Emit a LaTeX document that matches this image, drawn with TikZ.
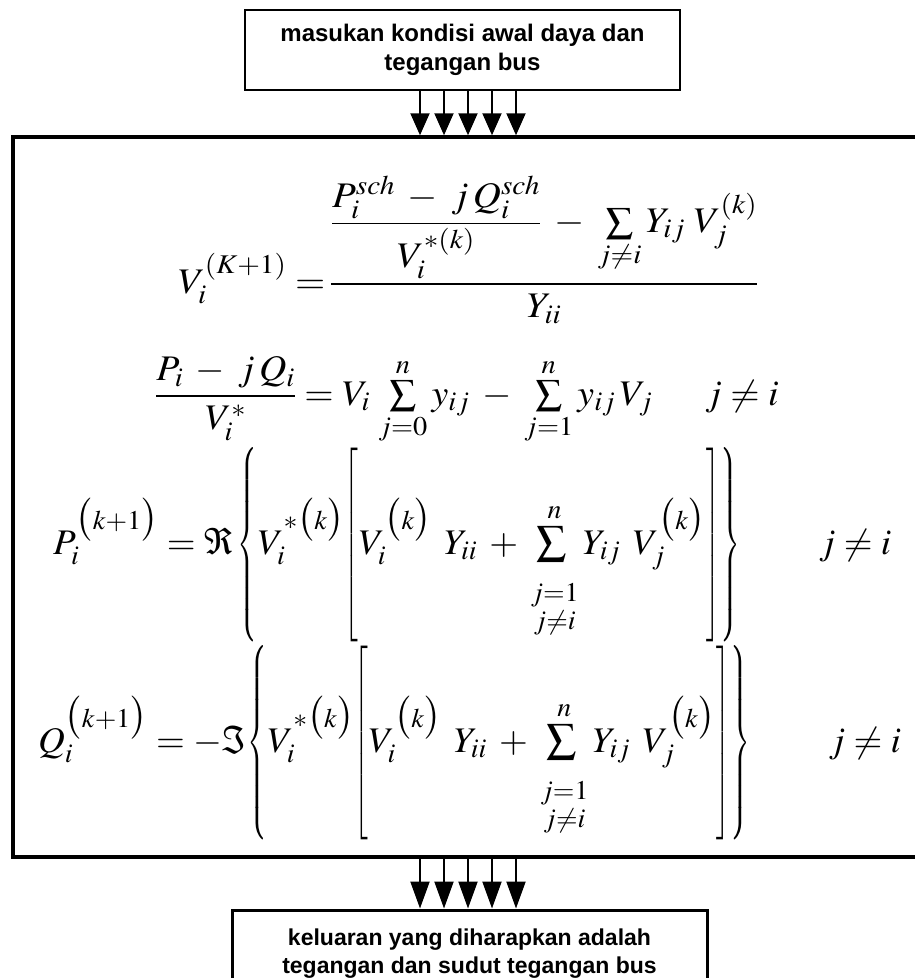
\documentclass[tikz,border=0pt]{standalone}
\usepackage{amsmath}
\usepackage{graphicx}
\usepackage{mathptmx}
\usepackage[no-math]{fontspec}
\newfontfamily\arialfont{Liberation Sans}
\usetikzlibrary{arrows.meta}
\DeclareMathSizes{36}{36}{27}{20}
\newcommand\pk[1]{\bigl(#1\bigr)}
\newcommand\lbrc{\mathopen{\scalebox{0.6}[1]{$\left\{\vrule width0pt height 104pt depth 85pt\right.$}}}
\newcommand\rbrc{\mathclose{\scalebox{0.6}[1]{$\left.\vrule width0pt height 104pt depth 85pt\right\}$}}}
\newcommand\lbrk{\mathopen{\scalebox{0.55}[1]{$\left[\vrule width0pt height 100pt depth 81pt\right.$}}}
\newcommand\rbrk{\mathclose{\scalebox{0.55}[1]{$\left.\vrule width0pt height 100pt depth 81pt\right]$}}}
\newcommand\bsum{\mathop{\scalebox{1.15}{$\textstyle\sum$}}\limits}
\newcommand\lowlim{\substack{\rule{0pt}{34pt}j=1\\ j\neq i}}
\tikzset{
  topbox/.style={draw, line width=2.5pt, minimum width=435pt, minimum height=80pt, inner sep=0pt, align=center,
    font=\arialfont\bfseries\fontsize{24}{29}\selectfont},
  botbox/.style={draw, line width=3pt, minimum width=475pt, minimum height=88pt, inner sep=0pt, align=center,
    font=\arialfont\bfseries\fontsize{23}{28}\selectfont},
  mainbox/.style={draw, line width=3.5pt, minimum width=907pt, minimum height=720pt, inner sep=0pt},
  eq/.style={inner sep=0pt, anchor=base west, font=\fontsize{36}{40}\selectfont},
  arr/.style={line width=2pt, -{Triangle[width=19pt,length=22pt]}},
  arrb/.style={line width=2pt, -{Triangle[width=19pt,length=27pt]}}
}
\begin{document}
\medmuskip=6mu plus 2mu minus 2mu
\begin{tikzpicture}[x=1pt,y=-1pt]
\useasboundingbox (0,0) rectangle (915,978);
\clip (0,0) rectangle (915,978);
\node[topbox] (top) at (462.5,50) {masukan kondisi awal daya dan\\tegangan bus};
\node[mainbox] (main) at (466.5,497) {};
\node[botbox] (bot) at (469.5,954) {keluaran yang diharapkan adalah\\tegangan dan sudut tegangan bus};
\foreach \x [count=\i] in {420,444,468,492,516} {
  \coordinate (c\i) at (\x,0);
  \draw[arr] (top.south -| c\i) -- (main.north -| c\i);
  \draw[arrb] (main.south -| c\i) -- (bot.north -| c\i);
}
\node[eq] (e1) at (178,293) {\scalebox{1.08}[1]{$\displaystyle V_i^{(K+1)} \mathrel{=}\! \frac{\dfrac{P_i^{sch} - j\,Q_i^{sch}}{V_i^{*(k)}} - \textstyle\sum\limits_{j\neq i} Y_{ij}\;V_j^{(k)}}{Y_{ii}}$}};
\node[eq] (e2) at (155,405) {\scalebox{1.05}[1]{$\displaystyle \frac{P_i - j\,Q_i}{V_i^{*}} = V_i\, \textstyle\sum\limits_{j=0}^{n} y_{ij} - \sum\limits_{j=1}^{n} y_{ij}\,V_j \hspace{50pt} j\neq i$}};
\node[eq] (e3) at (53,554) {\scalebox{1.03}[1]{$\displaystyle P_i^{\pk{k+1}} = \Re\, \lbrc V_i^{*\pk{k}} \lbrk V_i^{\pk{k}}\;\, Y_{ii} + \bsum_{\lowlim}^{n} Y_{ij}\;\, V_j^{\pk{k}} \rbrk \rbrc \hspace{76pt} j\neq i$}};
\node[eq] (e4) at (38,752) {\scalebox{1.03}[1]{$\displaystyle Q_i^{\pk{k+1}} = -\Im \lbrc V_i^{*\pk{k}} \lbrk V_i^{\pk{k}}\;\, Y_{ii} + \bsum_{\lowlim}^{n} Y_{ij}\;\, V_j^{\pk{k}} \rbrk \rbrc \hspace{76pt} j\neq i$}};
\end{tikzpicture}
\end{document}
